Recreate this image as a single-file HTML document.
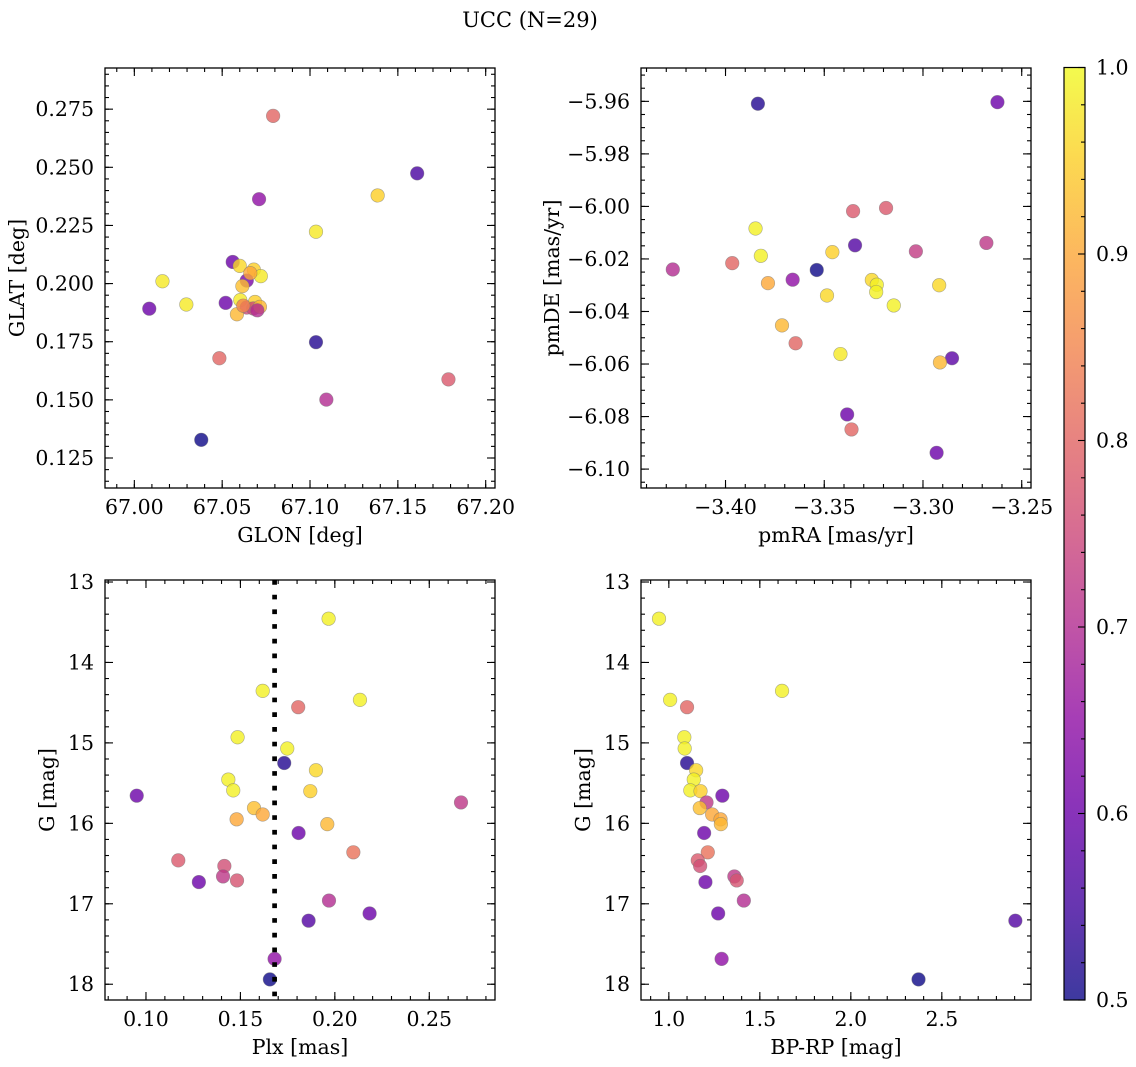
<!DOCTYPE html>
<html><head><meta charset="utf-8">
<style>
html,body{margin:0;padding:0;background:#fff;}
svg{display:block;font-family:"DejaVu Serif","Liberation Serif",serif;}
</style></head>
<body>
<svg id="fig" width="1136" height="1067" viewBox="0 0 1136 1067" xmlns="http://www.w3.org/2000/svg">
<defs>
<linearGradient id="plasmaGrad" x1="0" y1="1" x2="0" y2="0">
<stop offset="0" stop-color="rgb(13,8,135)"/><stop offset="0.1" stop-color="rgb(65,4,157)"/>
<stop offset="0.2" stop-color="rgb(106,0,168)"/><stop offset="0.3" stop-color="rgb(143,13,164)"/>
<stop offset="0.4" stop-color="rgb(177,42,144)"/><stop offset="0.5" stop-color="rgb(204,71,120)"/>
<stop offset="0.6" stop-color="rgb(225,100,98)"/><stop offset="0.7" stop-color="rgb(242,132,75)"/>
<stop offset="0.8" stop-color="rgb(252,166,54)"/><stop offset="0.9" stop-color="rgb(252,206,37)"/>
<stop offset="1" stop-color="rgb(240,249,33)"/>
</linearGradient>
</defs>
<text x="530" y="27" font-size="21" text-anchor="middle">UCC (N=29)</text>
</svg>
<script>
// Panel 1: GLON / GLAT
const glon = [67.079,67.161,67.071,67.1385,67.1034,67.056,67.060,67.068,67.072,67.064,67.0615,67.016,67.0296,67.0085,67.052,67.0603,67.064,67.0687,67.0677,67.0715,67.0584,67.1034,67.0484,67.1788,67.1093,67.0381,67.066,67.062,67.070];
const glat = [0.2721,0.2474,0.2363,0.2379,0.2223,0.2093,0.2076,0.2060,0.2032,0.2013,0.1989,0.2010,0.1910,0.1892,0.1917,0.1929,0.1897,0.1921,0.1893,0.1900,0.1868,0.1748,0.1679,0.1588,0.1501,0.1328,0.2045,0.1905,0.1885];
const probP1 = [0.80,0.56,0.65,0.95,0.98,0.60,0.96,0.95,0.98,0.62,0.93,0.98,0.98,0.60,0.60,0.98,0.75,0.95,0.75,0.92,0.92,0.52,0.80,0.78,0.70,0.50,0.90,0.85,0.70];
// Panel 2: pmRA / pmDE
const pmra = [-3.3836,-3.2623,-3.3354,-3.3187,-3.3848,-3.3344,-3.3459,-3.3036,-3.2679,-3.3821,-3.3966,-3.4267,-3.3538,-3.366,-3.3785,-3.3259,-3.3234,-3.3237,-3.2918,-3.3486,-3.3148,-3.3714,-3.3645,-3.3418,-3.2853,-3.2914,-3.3384,-3.3362,-3.2931];
const pmde = [-5.9609,-5.9603,-6.0018,-6.0006,-6.0084,-6.0148,-6.0174,-6.0171,-6.0139,-6.0188,-6.0216,-6.024,-6.0242,-6.0279,-6.0292,-6.028,-6.0298,-6.0326,-6.0300,-6.0339,-6.0377,-6.0453,-6.0521,-6.0562,-6.0578,-6.0594,-6.0792,-6.0849,-6.0938];
const probP2 = [0.52,0.60,0.78,0.78,0.99,0.57,0.95,0.73,0.72,0.99,0.80,0.70,0.50,0.65,0.90,0.96,0.99,0.99,0.96,0.96,0.99,0.92,0.80,0.98,0.58,0.92,0.60,0.80,0.60];
// Panels 3 & 4: photometry (shared star list)
const gmag = [13.456,14.353,14.465,14.556,14.93,15.07,15.25,15.34,15.456,15.59,15.60,15.656,15.74,15.81,15.89,15.95,16.01,16.12,16.36,16.46,16.53,16.66,16.71,16.73,16.96,17.12,17.21,17.685,17.94];
const plx  = [0.1967,0.1618,0.2133,0.1806,0.1485,0.1748,0.1732,0.190,0.1436,0.1462,0.187,0.0951,0.2668,0.1572,0.1618,0.148,0.196,0.1808,0.2098,0.1171,0.1415,0.1408,0.1482,0.128,0.1969,0.2184,0.1861,0.1681,0.1656];
const bprp = [0.946,1.622,1.007,1.10,1.085,1.087,1.10,1.15,1.137,1.118,1.174,1.294,1.207,1.17,1.238,1.284,1.286,1.194,1.214,1.159,1.172,1.36,1.373,1.201,1.412,1.271,2.904,1.29,2.372];
const probP34 = [0.99,0.99,0.99,0.80,0.99,0.99,0.52,0.96,0.99,0.99,0.95,0.60,0.72,0.93,0.90,0.90,0.92,0.60,0.82,0.78,0.76,0.72,0.77,0.60,0.70,0.60,0.57,0.65,0.50];
const plxMedian = 0.1681;
const cbTicks = [0.5,0.6,0.7,0.8,0.9,1.0];
const cbTickLabels = ["0.5","0.6","0.7","0.8","0.9","1.0"];

const NS = "http://www.w3.org/2000/svg";
const svg = document.getElementById('fig');
const FS = 20.5;
const plasma = [[13,8,135],[65,4,157],[106,0,168],[143,13,164],[177,42,144],[204,71,120],[225,100,98],[242,132,75],[252,166,54],[252,206,37],[240,249,33]];
function cmap(v){
  let t = (v-0.5)/0.5; t=Math.max(0,Math.min(1,t));
  const f=t*10, i=Math.min(9,Math.floor(f)), r=f-i;
  const a=plasma[i], b=plasma[i+1];
  return 'rgb('+[0,1,2].map(k=>Math.round(a[k]+(b[k]-a[k])*r)).join(',')+')';
}
function mk(tag, attrs, parent){
  const e=document.createElementNS(NS,tag);
  for(const k in attrs) e.setAttribute(k,attrs[k]);
  (parent||svg).appendChild(e); return e;
}
function fmt(v,d){return v<0?'\u2212'+Math.abs(v).toFixed(d):v.toFixed(d);}

function panel(c){
  const g=mk('g',{});
  
  
  const sx=v=>c.L+(v-c.x0)/(c.x1-c.x0)*(c.R-c.L);
  const sy=v=>c.B-(v-c.y0)/(c.y1-c.y0)*(c.B-c.T);
  const cp='clip-'+c.name;
  const cl=mk('clipPath',{id:cp},g); mk('rect',{x:c.L,y:c.T,width:c.R-c.L,height:c.B-c.T},cl);
  const pg=mk('g',{},g);
  
  
  pg.setAttribute('clip-path','url(#'+cp+')');
  for(let i=0;i<c.xs.length;i++){
    const p=mk('circle',{cx:sx(c.xs[i]),cy:sy(c.ys[i]),r:6.8,fill:cmap(c.ps[i]),'fill-opacity':0.8,stroke:'#777','stroke-opacity':0.6,'stroke-width':0.6},pg);
    
    
  }
  if(c.vline!==undefined){
    const ln=mk('line',{x1:sx(c.vline),x2:sx(c.vline),y1:c.T,y2:c.B,stroke:'#000','stroke-width':4.7,'stroke-dasharray':'4.7 10'},g);
    
    
  }
  const tk=mk('g',{stroke:'#000','stroke-width':1.1},g);
  function ticks(a0,a1,step,len,isX,major){
    const n0=Math.ceil(a0/step-1e-6), n1=Math.floor(a1/step+1e-6);
    for(let n=n0;n<=n1;n++){
      const v=n*step;
      if(isX){const x=sx(v);
        mk('line',{x1:x,x2:x,y1:c.B,y2:c.B-len},tk); mk('line',{x1:x,x2:x,y1:c.T,y2:c.T+len},tk);
        if(major){const t=mk('text',{x:x,y:c.B+26,'font-size':FS,'text-anchor':'middle',stroke:'none',fill:'#000'},g);t.textContent=fmt(v,c.xd);
          }
      } else {const y=sy(v);
        mk('line',{x1:c.L,x2:c.L+len,y1:y,y2:y},tk); mk('line',{x1:c.R,x2:c.R-len,y1:y,y2:y},tk);
        if(major){const t=mk('text',{x:c.L-11,y:y+7,'font-size':FS,'text-anchor':'end',stroke:'none',fill:'#000'},g);t.textContent=fmt(v,c.yd);
          }
      }
    }
  }
  const xl=Math.min(c.x0,c.x1), xh=Math.max(c.x0,c.x1), yl=Math.min(c.y0,c.y1), yh=Math.max(c.y0,c.y1);
  ticks(xl,xh,c.xmin,4,true,false); ticks(xl,xh,c.xmaj,8,true,true);
  ticks(yl,yh,c.ymin,4,false,false); ticks(yl,yh,c.ymaj,8,false,true);
  const fr=mk('rect',{x:c.L,y:c.T,width:c.R-c.L,height:c.B-c.T,fill:'none',stroke:'#000','stroke-width':1.3},g);
  
  
  const xt=mk('text',{x:(c.L+c.R)/2,y:c.B+54,'font-size':FS,'text-anchor':'middle'},g); xt.textContent=c.xlabel;
   
  const yt=mk('text',{x:0,y:0,'font-size':FS,'text-anchor':'middle',transform:'translate('+c.ylx+','+(c.T+c.B)/2+') rotate(-90)'},g); yt.textContent=c.ylabel;
   
}

panel({name:'glon-glat-panel',L:105,R:495,T:68,B:488,x0:66.9833,x1:67.2053,y0:0.1121,y1:0.2927,
  xmaj:0.05,xmin:0.01,ymaj:0.025,ymin:0.005,xd:2,yd:3,xs:glon,ys:glat,ps:probP1,xlabel:'GLON [deg]',ylabel:'GLAT [deg]',ylx:24});
panel({name:'pm-panel',L:641,R:1031,T:68,B:488,x0:-3.4428,x1:-3.2453,y0:-6.1072,y1:-5.9473,
  xmaj:0.05,xmin:0.01,ymaj:0.02,ymin:0.005,xd:2,yd:2,xs:pmra,ys:pmde,ps:probP2,xlabel:'pmRA [mas/yr]',ylabel:'pmDE [mas/yr]',ylx:559});
panel({name:'plx-g-panel',L:105,R:495,T:580,B:1000,x0:0.0783,x1:0.2848,y0:18.196,y1:12.975,
  xmaj:0.05,xmin:0.01,ymaj:1,ymin:0.2,xd:2,yd:0,xs:plx,ys:gmag,ps:probP34,xlabel:'Plx [mas]',ylabel:'G [mag]',ylx:54,vline:plxMedian});
panel({name:'cmd-panel',L:641,R:1031,T:580,B:1000,x0:0.847,x1:2.99,y0:18.196,y1:12.975,
  xmaj:0.5,xmin:0.1,ymaj:1,ymin:0.2,xd:1,yd:0,xs:bprp,ys:gmag,ps:probP34,xlabel:'BP-RP [mag]',ylabel:'G [mag]',ylx:590});

// colorbar
const cb=mk('g',{});


const CL=1064,CR=1085,CT=67.5,CB=1000;
mk('rect',{x:CL,y:CT,width:CR-CL,height:CB-CT,fill:'url(#plasmaGrad)','fill-opacity':0.8},cb);
mk('rect',{x:CL,y:CT,width:CR-CL,height:CB-CT,fill:'none',stroke:'#000','stroke-width':1.2},cb);
const cy=v=>CB-(v-0.5)/0.5*(CB-CT);
for(let n=25;n<=50;n++){const v=n/50, y=cy(v), maj=(n%5===0);
  mk('line',{x1:CR,x2:CR-(maj?7:4),y1:y,y2:y,stroke:'#000','stroke-width':1.1},cb);}
cbTicks.forEach((v,i)=>{const t=mk('text',{x:1096,y:cy(v)+7,'font-size':FS},cb);t.textContent=cbTickLabels[i];
  });
</script>
</body></html>
